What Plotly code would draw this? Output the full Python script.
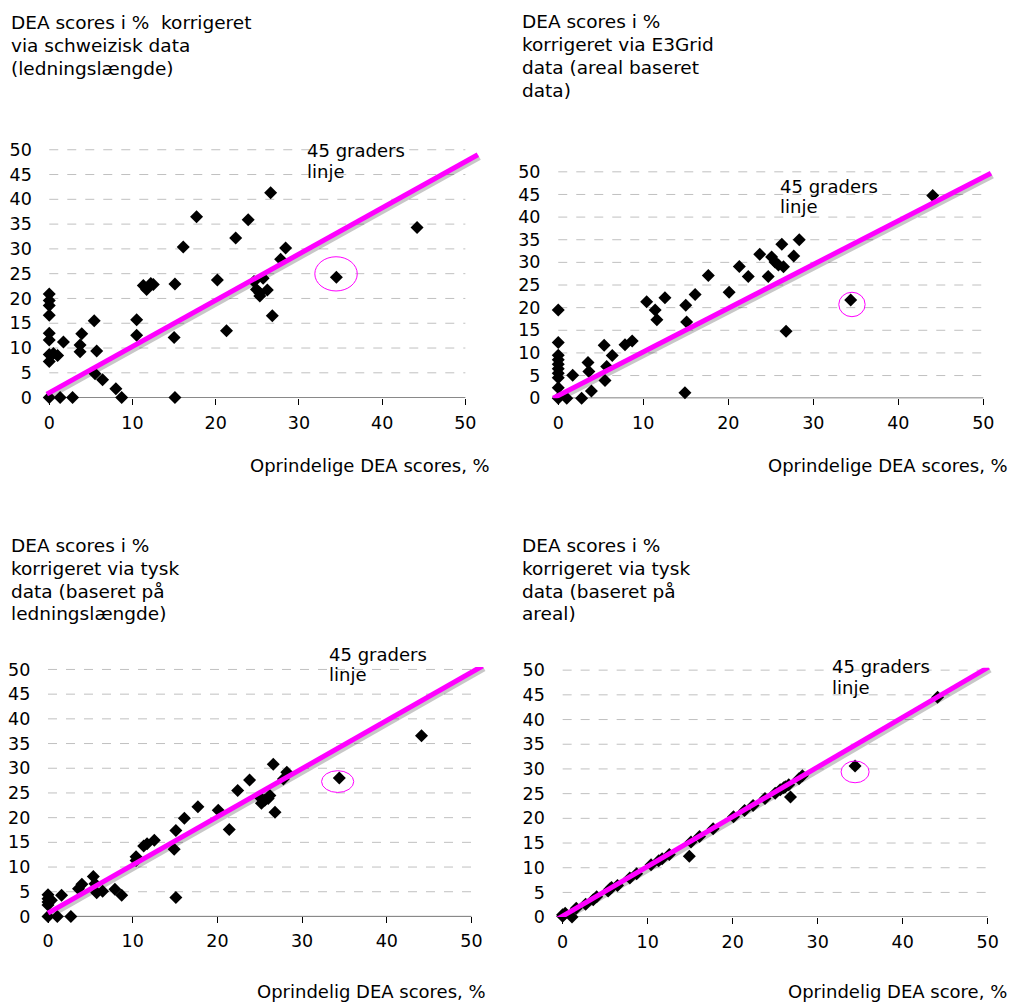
import plotly.graph_objects as go

W, H = 1011, 1005

# ---------------- data ----------------
# Panel 1: corrected via Swiss data (line length)
swiss_x = [0, 0, 0, 0, 0, 0, 0, 0, 0.5, 1.0, 0, 1.3, 1.7, 2.8, 3.9, 3.7, 3.7, 5.4, 5.7, 5.5,
           6.4, 8.0, 8.7, 10.5, 10.5, 11.3, 11.7, 12.2, 12.5, 15.1, 15.0, 15.1, 16.1, 17.7, 20.2,
           21.3, 22.4, 23.9, 26.6, 28.4, 27.8, 24.6, 25.7, 25.3, 26.2, 25.3, 24.9, 26.8, 34.5, 44.2]
swiss_y = [20.9, 19.6, 18.6, 16.6, 13.0, 11.6, 7.3, 8.7, 8.9, 8.5, 0, 0, 11.2, 0, 12.9, 10.6, 9.25, 15.5, 9.4, 4.8,
           3.6, 1.8, 0, 15.7, 12.6, 22.6, 21.8, 23.0, 22.8, 22.9, 12.1, 0, 30.4, 36.5, 23.7,
           13.5, 32.2, 35.9, 41.3, 30.2, 27.9, 23.4, 24.1, 21.1, 21.7, 20.5, 21.8, 16.5, 24.3, 34.3]

# Panel 2: corrected via E3Grid data (area based)
e3_x = [0, 0, 0, 0, 0, 0, 0, 0, 0, 0, 1.0, 1.7, 2.75, 3.5, 3.6, 3.9, 5.4, 5.7, 5.5, 6.35,
        7.85, 8.7, 10.4, 11.4, 11.6, 12.55, 15.0, 15.1, 14.9, 16.1, 17.65, 20.1, 21.3, 22.35, 23.7,
        24.7, 25.1, 25.5, 25.9, 26.5, 26.3, 27.7, 28.35, 26.8, 34.4, 44.05]
e3_y = [19.5, 12.3, 9.5, 8.5, 7.5, 6.5, 5.5, 4.5, 2.3, 0, 0, 5.05, 0, 7.9, 5.9, 1.6, 11.7, 7.0, 3.9, 9.4,
        11.8, 12.65, 21.3, 19.5, 17.35, 22.2, 20.5, 16.8, 1.2, 22.9, 27.1, 23.4, 29.1, 26.9, 31.8,
        26.9, 31.2, 30.1, 29.4, 29.05, 34.0, 31.4, 35.0, 14.8, 21.7, 44.75]

# Panel 3: corrected via German data (line length)
de_len_x = [0, 0, 0, 0, 0, 0.4, 1.1, 1.6, 2.7, 3.6, 4.0, 5.35, 5.55, 5.75, 6.45, 7.9, 8.7, 10.4, 10.4,
            11.3, 11.7, 12.55, 15.1, 14.9, 15.1, 16.1, 17.7, 20.1, 21.4, 22.4, 23.8, 26.6, 28.2, 27.8,
            25.0, 25.6, 26.0, 26.2, 25.2, 26.8, 34.4, 44.1]
de_len_y = [4.4, 3.6, 2.9, 2.3, 0, 3.3, 0, 4.3, 0, 5.6, 6.5, 8.1, 6.6, 4.8, 5.1, 5.5, 4.3, 12.1, 11.3,
            14.25, 14.7, 15.4, 17.4, 13.6, 3.85, 19.9, 22.2, 21.5, 17.6, 25.5, 27.6, 30.8, 29.2, 27.8,
            24.2, 23.5, 23.85, 24.5, 22.9, 21.1, 28.0, 36.6]

# Panel 4: corrected via German data (area)
de_area_x = [0, 0, 0.3, 1.1, 1.6, 2.7, 3.6, 4.0, 5.35, 5.55, 5.75, 6.45, 7.9, 8.7, 10.4, 11.3, 11.7, 12.55,
             15.1, 14.9, 16.1, 17.7, 20.1, 21.4, 22.4, 23.8, 25.0, 25.6, 26.0, 26.2, 26.6, 27.8, 28.2,
             26.8, 34.4, 44.1]
de_area_y = [0.5, 0.2, 0.8, 0, 1.8, 2.6, 3.5, 4.1, 5.3, 5.7, 6.0, 6.4, 7.9, 8.8, 10.6, 11.4, 11.8, 12.7,
             15.2, 12.3, 16.3, 17.9, 20.3, 21.6, 22.6, 24.0, 25.1, 25.8, 26.2, 26.4, 26.8, 28.0, 28.6,
             24.3, 30.6, 44.5]

# 45-degree reference lines (end points as drawn)
line45_x = [[-0.3, 51.5], [-0.6, 50.9], [0.0, 51.3], [-0.7, 50.1]]
line45_y = [[0.7, 49.0], [0.0, 49.7], [0.66, 50.7], [-0.5, 50.6]]

# highlighted point ellipses: centre x, centre y, width, height
ellipses = [[34.46, 24.96, 5.1, 6.9], [34.55, 20.7, 3.1, 5.4], [34.2, 27.3, 3.8, 4.4], [34.4, 29.4, 3.3, 4.4]]

x_ticks = [0, 10, 20, 30, 40, 50]
y_ticks = [0, 5, 10, 15, 20, 25, 30, 35, 40, 45, 50]
grid_vals = [5, 10, 15, 20, 25, 30, 35, 40, 45, 50]

titles = [
    ["DEA scores i %\u00a0\u00a0korrigeret", "via schweizisk data", "(ledningslængde)"],
    ["DEA scores i %", "korrigeret via E3Grid", "data (areal baseret", "data)"],
    ["DEA scores i %", "korrigeret via tysk", "data (baseret på", "ledningslængde)"],
    ["DEA scores i %", "korrigeret via tysk", "data (baseret på", "areal)"],
]
x_titles = ["Oprindelige DEA scores, %", "Oprindelige DEA scores, %",
            "Oprindelig DEA scores, %", "Oprindelig DEA score, %"]
line_label = ["45 graders", "linje"]

# ---------------- layout geometry (pixels) ----------------
X_RANGE = [-1.5, 52]
Y_RANGE = [0, 50.5]
# plot boxes: left, right, top, bottom (px)
boxes = [
    (36.8, 482.0, 141.8, 396.7),
    (545.5, 1000.3, 164.5, 397.3),
    (35.3, 488.4, 671.0, 925.0),
    (549.9, 1004.7, 671.7, 925.7),
]
# title left x and line y's (px)
title_pos = [(9, [15, 38.5, 62]), (520, [14, 37.3, 60.7, 84]),
             (9, [547, 570.3, 593.7, 617]), (520, [547, 570.3, 593.7, 617])]
xtitle_pos = [(492, 466), (1010, 466), (488, 1001), (1009, 1001)]
label45_pos = [(305, [145, 166]), (778, [181.7, 202.3]), (327, [658.3, 679]), (830, [671, 692])]

FONT = "DejaVu Sans, Verdana, sans-serif"
TXT = 18
TITLE_TXT = 18.5
MAG = "#ff00ff"
SHADOW_PX = (1.5, 2.5)  # drop-shadow offset of the 45-degree line, pixels right / down

series = [(swiss_x, swiss_y), (e3_x, e3_y), (de_len_x, de_len_y), (de_area_x, de_area_y)]

fig = go.Figure()
shapes = []
annotations = []
layout_axes = {}


def px2paper_x(v):
    return v / W


def px2paper_y(v):
    return 1 - v / H


def add_text(text, x, y, xanchor="left", size=TXT):
    annotations.append(dict(text=text, xref="paper", yref="paper",
                            x=px2paper_x(x), y=px2paper_y(y), xanchor=xanchor, yanchor="middle",
                            showarrow=False, font=dict(family=FONT, size=size, color="black")))


for i, (sx, sy) in enumerate(series):
    xa = "x" if i == 0 else f"x{i + 1}"
    ya = "y" if i == 0 else f"y{i + 1}"
    left, right, top, bottom = boxes[i]
    ux = (right - left) / (X_RANGE[1] - X_RANGE[0])   # px per x unit
    uy = (bottom - top) / (Y_RANGE[1] - Y_RANGE[0])   # px per y unit

    fig.add_trace(go.Scatter(x=sx, y=sy, mode="markers", xaxis=xa, yaxis=ya,
                             marker=dict(symbol="diamond", size=10, color="black"),
                             cliponaxis=False, showlegend=False, hoverinfo="x+y"))
    # soft drop shadow of the 45-degree line
    fig.add_trace(go.Scatter(x=[v + SHADOW_PX[0] / ux for v in line45_x[i]],
                             y=[v - SHADOW_PX[1] / uy for v in line45_y[i]],
                             mode="lines", xaxis=xa, yaxis=ya,
                             line=dict(color="rgba(0,0,0,0.22)", width=6),
                             showlegend=False, hoverinfo="skip"))
    fig.add_trace(go.Scatter(x=line45_x[i], y=line45_y[i], mode="lines", xaxis=xa, yaxis=ya,
                             line=dict(color=MAG, width=5), showlegend=False, hoverinfo="skip"))

    for g in grid_vals:
        shapes.append(dict(type="line", xref=xa, yref=ya, x0=0, x1=50, y0=g, y1=g, layer="below",
                           line=dict(color="#c0c0c0", width=1, dash="dash")))
    shapes.append(dict(type="line", xref=xa, yref=ya, x0=0, x1=50, y0=0, y1=0, layer="below",
                       line=dict(color="black", width=1)))
    cx, cy, ew, eh = ellipses[i]
    shapes.append(dict(type="circle", xref=xa, yref=ya, x0=cx - ew / 2, x1=cx + ew / 2,
                       y0=cy - eh / 2, y1=cy + eh / 2, line=dict(color=MAG, width=1)))

    xkey = "xaxis" if i == 0 else f"xaxis{i + 1}"
    ykey = "yaxis" if i == 0 else f"yaxis{i + 1}"
    layout_axes[xkey] = dict(domain=[left / W, right / W], range=X_RANGE, anchor=ya,
                             tickvals=x_ticks, ticks="outside", ticklen=6, tickcolor="black",
                             showgrid=False, zeroline=False, showline=False, ticklabelstandoff=3,
                             tickfont=dict(family=FONT, size=17.5, color="black"))
    layout_axes[ykey] = dict(domain=[1 - bottom / H, 1 - top / H], range=Y_RANGE, anchor=xa,
                             tickvals=y_ticks, ticks="", showgrid=False, zeroline=False,
                             showline=False, ticklabelstandoff=4,
                             tickfont=dict(family=FONT, size=17.5, color="black"))

    tx, tys = title_pos[i]
    for line_text, ty in zip(titles[i], tys):
        add_text(line_text, tx, ty, size=TITLE_TXT)
    xx, xy = xtitle_pos[i]
    add_text(x_titles[i], xx, xy, xanchor="right")
    lx, lys = label45_pos[i]
    for line_text, ly in zip(line_label, lys):
        add_text(line_text, lx, ly)

fig.update_layout(width=W, height=H, margin=dict(l=0, r=0, t=0, b=0),
                  paper_bgcolor="white", plot_bgcolor="white",
                  shapes=shapes, annotations=annotations, showlegend=False,
                  font=dict(family=FONT, size=TXT, color="black"), **layout_axes)

fig.write_html("out.html")
